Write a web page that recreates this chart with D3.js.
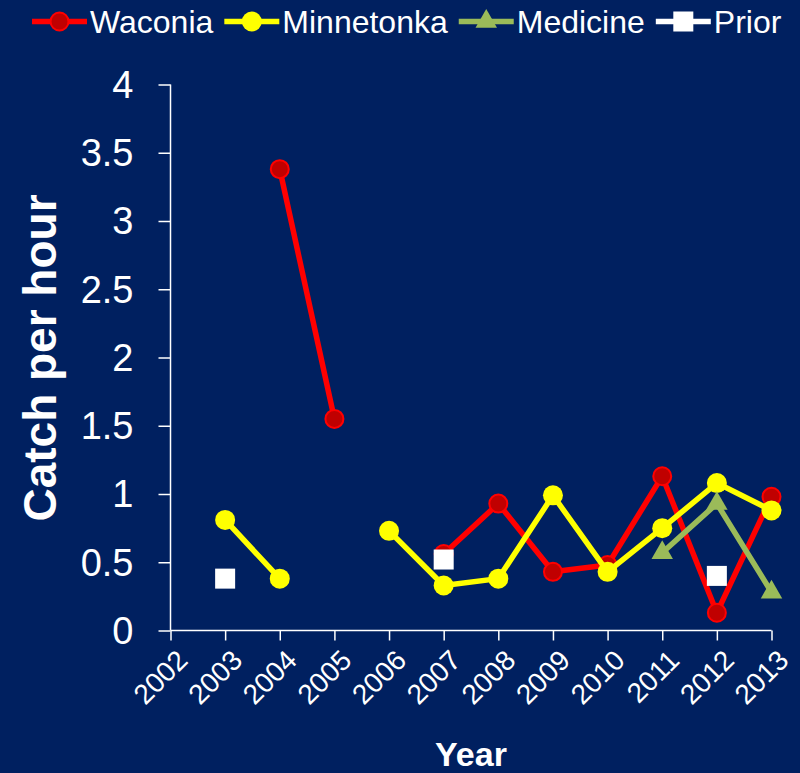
<!DOCTYPE html>
<html>
<head>
<meta charset="utf-8">
<script src="https://d3js.org/d3.v7.min.js"></script>
<style>
  body { margin: 0; background: #002060; }
  text { font-family: Arial, "Liberation Sans", sans-serif; fill: #fff; }
</style>
</head>
<body>
<div id="chart"></div>
<script>
var years = ["2002", "2003", "2004", "2005", "2006", "2007", "2008", "2009", "2010", "2011", "2012", "2013"];
var yTicks = [0, 0.5, 1, 1.5, 2, 2.5, 3, 3.5, 4];

// null = no sample that year
var waconia    = [null, null, 3.38, 1.55, null, 0.56, 0.93, 0.43, 0.48, 1.13, 0.13, 0.98];
var minnetonka = [null, 0.81, 0.38, null, 0.73, 0.33, 0.38, 0.99, 0.43, 0.75, 1.08, 0.88];
var medicine   = [null, null, null, null, null, null, null, null, null, 0.57, 0.93, 0.28];
var prior      = [null, 0.38, null, null, null, 0.52, null, null, null, null, 0.40, null];

var width = 800,
    height = 773;

var svg = d3.select("#chart")
    .append("svg")
    .attr("width", width)
    .attr("height", height);

svg.append("rect")
    .attr("width", width)
    .attr("height", height)
    .attr("fill", "#002060");

var x = d3.scalePoint()
    .domain(years)
    .range([170.5, 771.5]);

var y = d3.scaleLinear()
    .domain([0, 4])
    .range([630.5, 84.5]);

// axes
var yAxis = svg.append("g")
    .attr("transform", "translate(170.5,0)")
    .call(d3.axisLeft(y).tickValues(yTicks).tickSize(12).tickPadding(25).tickFormat(d3.format("")));

var xAxis = svg.append("g")
    .attr("transform", "translate(0,630.5)")
    .call(d3.axisBottom(x).tickSize(10).tickFormat(""));

svg.selectAll(".domain").attr("stroke", "#fff").attr("stroke-width", 1.5);
svg.selectAll(".tick line").attr("stroke", "#fff").attr("stroke-width", 1.5);
xAxis.select(".domain").attr("d", "M170.5,0H771.5");
yAxis.select(".domain").attr("d", "M0,84.5V630.5");

yAxis.selectAll(".tick text")
    .style("font-size", "38px")
    .attr("fill", "#fff")
    .attr("dy", "0.34em");

svg.append("g").selectAll("text")
    .data(years)
    .enter().append("text")
    .attr("transform", function(d) { return "translate(" + (x(d) + 5) + ",648) rotate(-45)"; })
    .attr("text-anchor", "end")
    .attr("dy", "0.7em")
    .style("font-size", "28px")
    .text(function(d) { return d; });

svg.append("text")
    .attr("x", 471)
    .attr("y", 766)
    .attr("text-anchor", "middle")
    .style("font-size", "34px")
    .style("font-weight", "bold")
    .text("Year");

svg.append("text")
    .attr("transform", "translate(56,358) rotate(-90)")
    .attr("text-anchor", "middle")
    .style("font-size", "46px")
    .style("font-weight", "bold")
    .text("Catch per hour");

// series
function pts(vals) {
  return years.map(function(yr, i) { return {year: yr, v: vals[i]}; });
}

var line = d3.line()
    .defined(function(d) { return d.v != null; })
    .x(function(d) { return x(d.year); })
    .y(function(d) { return y(d.v); });

function drawLine(vals, color) {
  svg.append("path")
      .datum(pts(vals))
      .attr("fill", "none")
      .attr("stroke", color)
      .attr("stroke-width", 5.5)
      .attr("stroke-linejoin", "round")
      .attr("d", line);
}

var tri = d3.symbol().type(d3.symbolTriangle).size(200);

function drawMarkers(vals, kind) {
  var g = svg.append("g");
  var data = pts(vals).filter(function(d) { return d.v != null; });
  if (kind == "circleRed") {
    g.selectAll("circle").data(data).enter().append("circle")
        .attr("cx", function(d) { return x(d.year); })
        .attr("cy", function(d) { return y(d.v); })
        .attr("r", 9)
        .attr("fill", "#c00000")
        .attr("stroke", "#ff0000")
        .attr("stroke-width", 2);
  } else if (kind == "circleYellow") {
    g.selectAll("circle").data(data).enter().append("circle")
        .attr("cx", function(d) { return x(d.year); })
        .attr("cy", function(d) { return y(d.v); })
        .attr("r", 10)
        .attr("fill", "#ffff00");
  } else if (kind == "triangle") {
    g.selectAll("path").data(data).enter().append("path")
        .attr("transform", function(d) { return "translate(" + x(d.year) + "," + y(d.v) + ")"; })
        .attr("d", tri)
        .attr("fill", "#9bbb59");
  } else {
    g.selectAll("rect").data(data).enter().append("rect")
        .attr("x", function(d) { return x(d.year) - 10; })
        .attr("y", function(d) { return y(d.v) - 10; })
        .attr("width", 20)
        .attr("height", 20)
        .attr("fill", "#fff");
  }
}

drawLine(waconia, "#ff0000");
drawMarkers(waconia, "circleRed");
drawLine(minnetonka, "#ffff00");
drawMarkers(minnetonka, "circleYellow");
drawLine(medicine, "#9bbb59");
drawMarkers(medicine, "triangle");
drawMarkers(prior, "square");

// legend
var legendItems = [
  {name: "Waconia", color: "#ff0000", kind: "circleRed"},
  {name: "Minnetonka", color: "#ffff00", kind: "circleYellow"},
  {name: "Medicine", color: "#9bbb59", kind: "triangle"},
  {name: "Prior", color: "#ffffff", kind: "square"}
];

var lx = 32;
legendItems.forEach(function(it) {
  var g = svg.append("g").attr("transform", "translate(" + lx + ",21.5)");
  g.append("line")
      .attr("x1", 0).attr("x2", 55)
      .attr("stroke", it.color)
      .attr("stroke-width", 5.5);
  if (it.kind == "circleRed") {
    g.append("circle").attr("cx", 27.5).attr("r", 9)
        .attr("fill", "#c00000").attr("stroke", "#ff0000").attr("stroke-width", 2);
  } else if (it.kind == "circleYellow") {
    g.append("circle").attr("cx", 27.5).attr("r", 10).attr("fill", "#ffff00");
  } else if (it.kind == "triangle") {
    g.append("path").attr("transform", "translate(27.5,0)").attr("d", tri).attr("fill", "#9bbb59");
  } else {
    g.append("rect").attr("x", 17.5).attr("y", -10).attr("width", 20).attr("height", 20).attr("fill", "#fff");
  }
  var t = g.append("text")
      .attr("x", 58)
      .attr("y", 11)
      .style("font-size", "32px")
      .text(it.name);
  lx += 58 + t.node().getComputedTextLength() + 11;
});
</script>
</body>
</html>
